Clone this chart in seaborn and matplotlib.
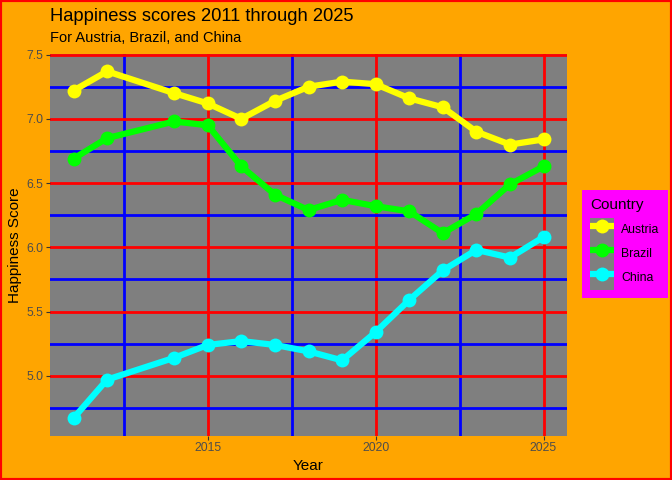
import pandas as pd
import seaborn as sns
import matplotlib.pyplot as plt
from matplotlib.patches import Rectangle
from matplotlib.ticker import MultipleLocator
from matplotlib.transforms import IdentityTransform

years = [2011, 2012, 2014, 2015, 2016, 2017, 2018, 2019, 2020, 2021, 2022, 2023, 2024, 2025]
austria = [7.22, 7.37, 7.20, 7.12, 7.00, 7.14, 7.25, 7.29, 7.27, 7.16, 7.09, 6.90, 6.80, 6.84]
brazil = [6.69, 6.85, 6.98, 6.95, 6.63, 6.41, 6.29, 6.37, 6.32, 6.28, 6.11, 6.26, 6.49, 6.63]
china = [4.67, 4.97, 5.14, 5.24, 5.27, 5.24, 5.19, 5.12, 5.34, 5.59, 5.82, 5.98, 5.92, 6.08]
countries = ["Austria", "Brazil", "China"]
colors = {"Austria": "#FFFF00", "Brazil": "#00FF00", "China": "#00FFFF"}

df = pd.DataFrame({
    "Year": years * 3,
    "Score": austria + brazil + china,
    "Country": ["Austria"] * len(years) + ["Brazil"] * len(years) + ["China"] * len(years),
})

plt.rcParams["font.family"] = ["Liberation Sans", "DejaVu Sans"]

fig = plt.figure(figsize=(6.72, 4.8), dpi=100)
fig.patch.set_facecolor("#FFA500")
fig.patches.append(Rectangle((0, 0), 1, 1, transform=fig.transFigure, fill=False,
                             edgecolor="red", linewidth=3, zorder=10))

W, H = 672, 480
ax = fig.add_axes([50 / W, 1 - 435.5 / H, (567 - 50) / W, (435.5 - 54) / H])
ax.set_facecolor("#7F7F7F")

sns.lineplot(data=df, x="Year", y="Score", hue="Country", hue_order=countries,
             palette=colors, marker="o", markersize=10, markeredgewidth=0,
             linewidth=4.5, ax=ax, legend=False)

ax.set_xlim(2010.3, 2025.7)
ax.set_ylim(4.535, 7.505)
ax.xaxis.set_major_locator(MultipleLocator(5))
ax.xaxis.set_minor_locator(MultipleLocator(2.5))
ax.yaxis.set_major_locator(MultipleLocator(0.5))
ax.yaxis.set_minor_locator(MultipleLocator(0.25))
ax.set_axisbelow(True)
ax.grid(which="major", color="red", linewidth=2)
ax.grid(which="minor", color="blue", linewidth=2)
ax.tick_params(which="major", length=3, color="#333333", labelsize=8.8, labelcolor="#4D4D4D", pad=2)
ax.tick_params(which="minor", length=0)
ax.yaxis.set_major_formatter(plt.FuncFormatter(lambda v, p: f"{v:.1f}"))
for s in ax.spines.values():
    s.set_visible(False)
ax.set_xlabel("Year", fontsize=11, labelpad=3)
ax.set_ylabel("Happiness Score", fontsize=11, labelpad=3)

fig.text(50 / W, 1 - 8 / H, "Happiness scores 2011 through 2025", fontsize=13.2, va="top", ha="left")
fig.text(50 / W, 1 - 31 / H, "For Austria, Brazil, and China", fontsize=10.5, va="top", ha="left")

handles = [plt.Line2D([], [], color=colors[c], linewidth=4.5, marker="o", markersize=10,
                      markeredgewidth=0, solid_capstyle="butt") for c in countries]
leg = fig.legend(handles, countries, title="Country", loc="center left",
                 bbox_to_anchor=(582 / W, 1 - 244 / H), borderaxespad=0,
                 fontsize=8.8, title_fontsize=11, frameon=False,
                 handlelength=1.96, handleheight=2.644, labelspacing=0, handletextpad=0.6,
                 borderpad=0.65)
leg._legend_box.align = "left"
leg._legend_box.sep = 4
leg.set_zorder(6)

# magenta legend box and grey key backgrounds, drawn behind the legend
fig.canvas.draw()
r = fig.canvas.get_renderer()
bb = leg.get_window_extent(r)
fig.patches.append(Rectangle((bb.x0, bb.y0), bb.width, bb.height, transform=IdentityTransform(),
                             facecolor="#FF00FF", edgecolor="none", zorder=4))
pad_px = 0.6 * 8.8 * fig.dpi / 72
for t in leg.get_texts():
    tb = t.get_window_extent(r)
    cy = (tb.y0 + tb.y1) / 2
    fig.patches.append(Rectangle((tb.x0 - pad_px - 24, cy - 12), 24, 24, transform=IdentityTransform(),
                                 facecolor="#7F7F7F", edgecolor="none", zorder=5))

fig.savefig("out.png", dpi=100, facecolor=fig.get_facecolor())
